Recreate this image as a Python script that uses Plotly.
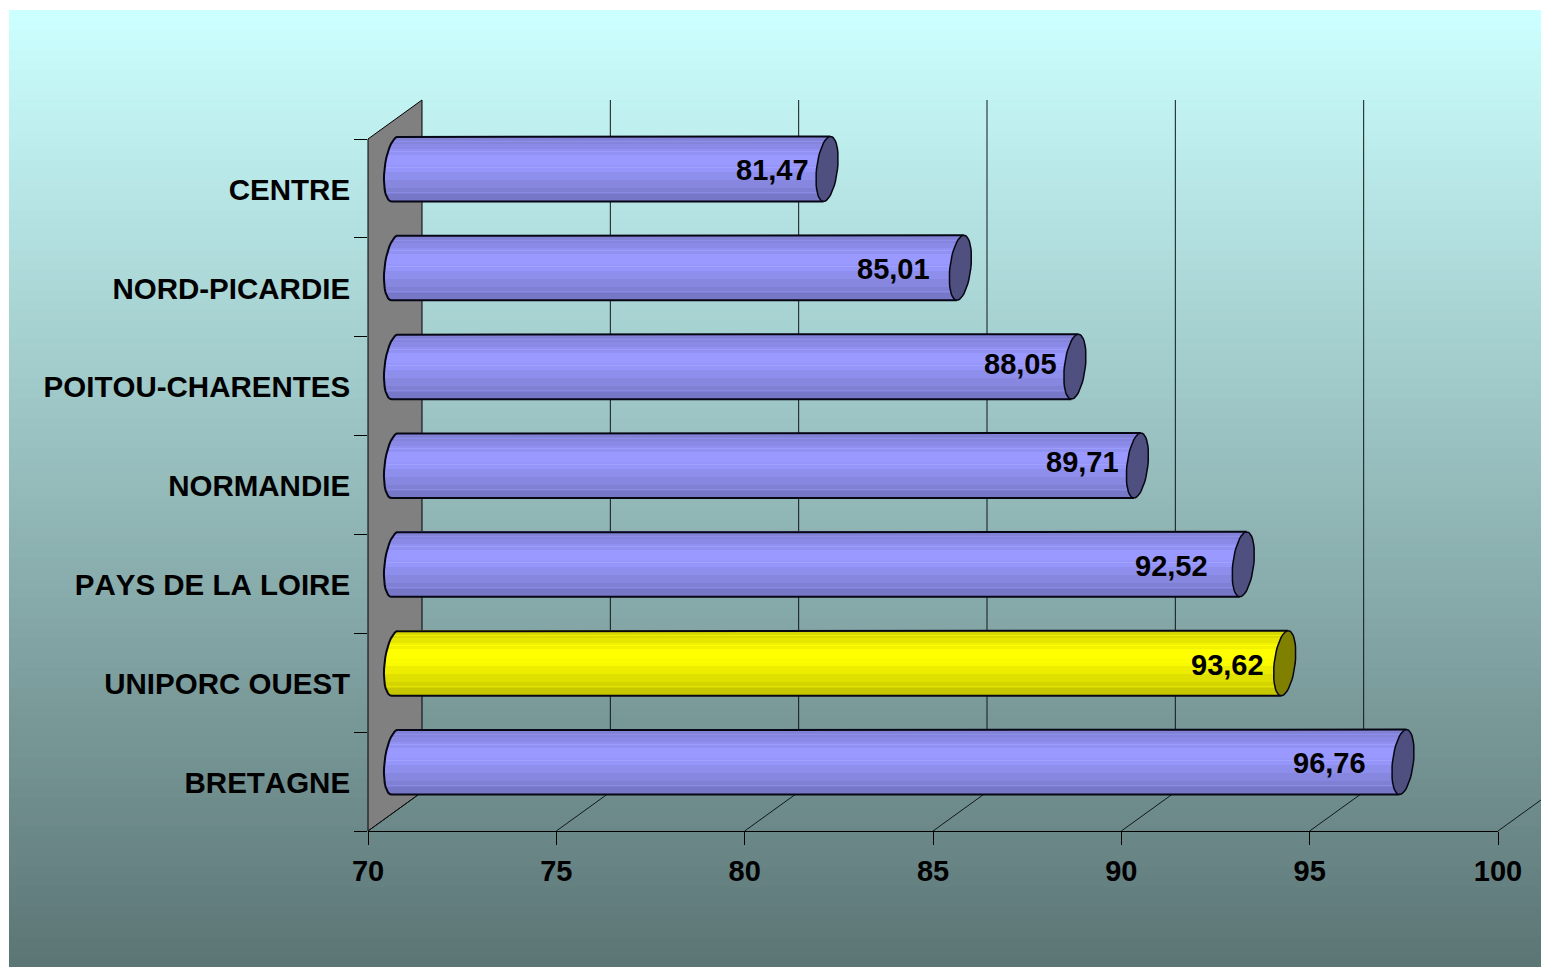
import math
import plotly.graph_objects as go

# ---- data ----
regions = ["CENTRE", "NORD-PICARDIE", "POITOU-CHARENTES", "NORMANDIE",
           "PAYS DE LA LOIRE", "UNIPORC OUEST", "BRETAGNE"]
values = [81.47, 85.01, 88.05, 89.71, 92.52, 93.62, 96.76]
value_labels = ["81,47", "85,01", "88,05", "89,71", "92,52", "93,62", "96,76"]
highlight = "UNIPORC OUEST"
x_ticks = [70, 75, 80, 85, 90, 95, 100]

# ---- layout constants (pixels of the 1541x968 page) ----
W, H = 1541, 968
X0, X1 = 368, 1498          # front plane, 70 -> 100
Y_TOP, Y_BOT = 139, 831     # front plane, slots
DEPTH_X, DEPTH_Y = 54, 39   # oblique depth of the box
BAR_H = 65
RX, SKEW = 10.5, 3.5
LABEL_NUDGE = 1             # category labels sit about 1px below the slot centre

XMIN, XMAX = x_ticks[0], x_ticks[-1]
PX_X = (X1 - X0) / (XMAX - XMIN)
PX_Y = (Y_BOT - Y_TOP) / len(regions)
DX = DEPTH_X / PX_X
DY = DEPTH_Y / PX_Y
RY = BAR_H / 2
row_pos = list(range(len(regions)))
wall_top, wall_bot = -0.5, len(regions) - 0.5

# label nudges: gap from cap centre to text right edge, vertical offset
label_gap = [18, 30, 18, 18, 35, 21, 37]
label_dy = [1, 1, -3, -4, 2, 2, 1]

BAND_STOPS = [(0.00, 0.84), (0.06, 0.86), (0.12, 0.90), (0.20, 0.95), (0.30, 1.00),
              (0.45, 0.98), (0.55, 0.93), (0.68, 0.88), (0.80, 0.83), (0.90, 0.78), (1.01, 0.72)]
HAIRLINES = [5, 15, 31, 56]  # strips a little lighter than their band


def shade(frac):
    v = BAND_STOPS[0][1]
    for f, s in BAND_STOPS:
        if frac >= f:
            v = s
    return v


def rgb(base, k):
    return "rgb(%d,%d,%d)" % tuple(min(255, round(c * k)) for c in base)


BLUE = (153, 153, 255)
YELLOW = (255, 255, 0)
CAP_BLUE = "#4F4F80"
CAP_YELLOW = "#808000"
EDGE = "#060614"


def base_of(name):
    return YELLOW if name == highlight else BLUE


def page_xrange(shift):
    return [XMIN + (0 - X0 - shift) / PX_X, XMIN + (W - X0 - shift) / PX_X]


def page_yrange(shift):
    return [wall_top + (H - Y_TOP - shift) / PX_Y, wall_top + (0 - Y_TOP - shift) / PX_Y]


fig = go.Figure()

# ---- gradient background ----
TOP_C = (204, 255, 255)
BOT_C = (92, 117, 117)
BG_L, BG_T, BG_B = 9, 10, 967
steps = 96
shapes = []
for k in range(steps):
    f = k / (steps - 1)
    c = tuple(round(a + (b - a) * f) for a, b in zip(TOP_C, BOT_C))
    y0 = BG_T + (BG_B - BG_T) * k / steps
    shapes.append(dict(type="rect", xref="paper", yref="paper", layer="below",
                       x0=BG_L / W, x1=1, y0=1 - y0 / H, y1=1 - BG_B / H,
                       fillcolor="rgb(%d,%d,%d)" % c, line=dict(width=0)))

# ---- left wall (first subplot: hidden axes spanning the page at the front-plane scale) ----
fig.add_trace(go.Scatter(
    x=[XMIN, XMIN + DX, XMIN + DX, XMIN, XMIN],
    y=[wall_top, wall_top - DY, wall_bot - DY, wall_bot, wall_top],
    mode="lines", fill="toself", fillcolor="#808080",
    line=dict(color="black", width=1), hoverinfo="skip"))

# ---- back gridlines and floor diagonals ----
gx, gy = [], []
for t in x_ticks:
    gx += [t, t + DX, None]
    gy += [wall_bot, wall_bot - DY, None]
    if t > XMIN:
        gx += [t + DX, t + DX, None]
        gy += [wall_bot - DY, wall_top - DY, None]
fig.add_trace(go.Scatter(x=gx, y=gy, mode="lines", line=dict(color="#101818", width=1),
                         hoverinfo="skip"))

# ---- cylinders, drawn as thin horizontal bars (second subplot: mid-depth plane) ----
strip_w = 1 / PX_Y
colors_by_row = [base_of(n) for n in regions]
for s in range(BAR_H):
    t = (s + 0.5) / BAR_H * 2 - 1
    left = -(RX * (1 - t * t) ** 0.5) - SKEW * t
    right = -SKEW * t
    k = shade((s + 0.5) / BAR_H) + (0.07 if s in HAIRLINES else 0)
    bases = [XMIN + left / PX_X for _ in values]
    ends = [v + right / PX_X for v in values]
    fig.add_trace(go.Bar(
        x=[e - b for e, b in zip(ends, bases)], y=row_pos, base=bases, orientation="h",
        width=strip_w, offset=(s - BAR_H / 2) * strip_w,
        marker=dict(color=[rgb(c, k) for c in colors_by_row], line=dict(width=0)),
        xaxis="x2", yaxis="y2", hoverinfo="skip"))

ANG = [i * 7.5 for i in range(49)]
for i, (name, v) in enumerate(zip(regions, values)):
    # outline: top edge, left arc, bottom edge
    ox = [v + SKEW / PX_X]
    oy = [i - RY / PX_Y]
    for a in range(-90, 91, 10):
        t = math.sin(math.radians(a))
        ox.append(XMIN + (-RX * math.cos(math.radians(a)) - SKEW * t) / PX_X)
        oy.append(i + RY * t / PX_Y)
    ox.append(v - SKEW / PX_X)
    oy.append(i + RY / PX_Y)
    fig.add_trace(go.Scatter(x=ox, y=oy, mode="lines", line=dict(color=EDGE, width=2),
                             xaxis="x2", yaxis="y2", hoverinfo="skip"))
    # end cap
    cx, cy = [], []
    for a in ANG:
        r = math.radians(a)
        cx.append(v + (RX * math.cos(r) - SKEW * math.sin(r)) / PX_X)
        cy.append(i + RY * math.sin(r) / PX_Y)
    fig.add_trace(go.Scatter(x=cx, y=cy, mode="lines", fill="toself",
                             fillcolor=CAP_YELLOW if name == highlight else CAP_BLUE,
                             line=dict(color=EDGE, width=1.5),
                             xaxis="x2", yaxis="y2", hoverinfo="skip"))

# ---- visible axes (third subplot) ----
fig.add_trace(go.Scatter(x=[XMIN], y=[0], mode="markers", marker=dict(opacity=0),
                         xaxis="x3", yaxis="y3", hoverinfo="skip"))

# ---- value labels ----
FONT = dict(family="Liberation Sans", size=29, color="black", weight="bold")
LABEL_FONT = dict(family="Liberation Sans", size=29.5, color="black", weight="bold")
annotations = []
for i, (v, lab) in enumerate(zip(values, value_labels)):
    annotations.append(dict(x=v, y=i, xref="x2", yref="y2", text=lab, showarrow=False,
                            xanchor="right", yanchor="middle", xshift=-label_gap[i] + 1,
                            yshift=-label_dy[i], font=FONT, borderpad=0))

fig.update_layout(
    width=W, height=H, margin=dict(l=0, r=0, t=0, b=0, pad=0, autoexpand=False),
    paper_bgcolor="white", plot_bgcolor="rgba(0,0,0,0)", showlegend=False,
    barmode="overlay", bargap=0, shapes=shapes, annotations=annotations,
    xaxis=dict(domain=[0, 1], range=page_xrange(0), visible=False, anchor="y"),
    yaxis=dict(domain=[0, 1], range=page_yrange(0), visible=False, anchor="x"),
    xaxis2=dict(domain=[0, 1], range=page_xrange(DEPTH_X / 2), visible=False, anchor="y2"),
    yaxis2=dict(domain=[0, 1], range=page_yrange(-DEPTH_Y / 2), visible=False, anchor="x2"),
    xaxis3=dict(domain=[X0 / W, X1 / W], range=[XMIN, XMAX], tickmode="array", tickvals=x_ticks,
                ticks="outside", ticklen=13, tickcolor="black", tickwidth=1, showgrid=False,
                zeroline=False, showline=True, linecolor="black", linewidth=1, tickfont=FONT,
                ticklabelstandoff=1, anchor="y3"),
    yaxis3=dict(domain=[1 - Y_BOT / H, 1 - Y_TOP / H], range=[wall_bot, wall_top], tickmode="array",
                tickvals=[r + LABEL_NUDGE / PX_Y for r in row_pos], ticktext=regions,
                ticks="outside", ticklen=7,
                tickcolor="rgba(0,0,0,0)", showgrid=False, zeroline=False, showline=False,
                tickfont=LABEL_FONT, ticklabelstandoff=4, anchor="x3",
                minor=dict(tickmode="array", tickvals=[r - 0.5 for r in row_pos] + [wall_bot],
                           ticks="outside", ticklen=13, tickcolor="black", tickwidth=1,
                           showgrid=False)),
)

fig.write_html("out.html", config=dict(displayModeBar=False),
               post_script="var s=document.createElement('style');"
                           "s.textContent='html,body{margin:0;overflow:hidden}text{font-kerning:none}';"
                           "document.head.appendChild(s);")
